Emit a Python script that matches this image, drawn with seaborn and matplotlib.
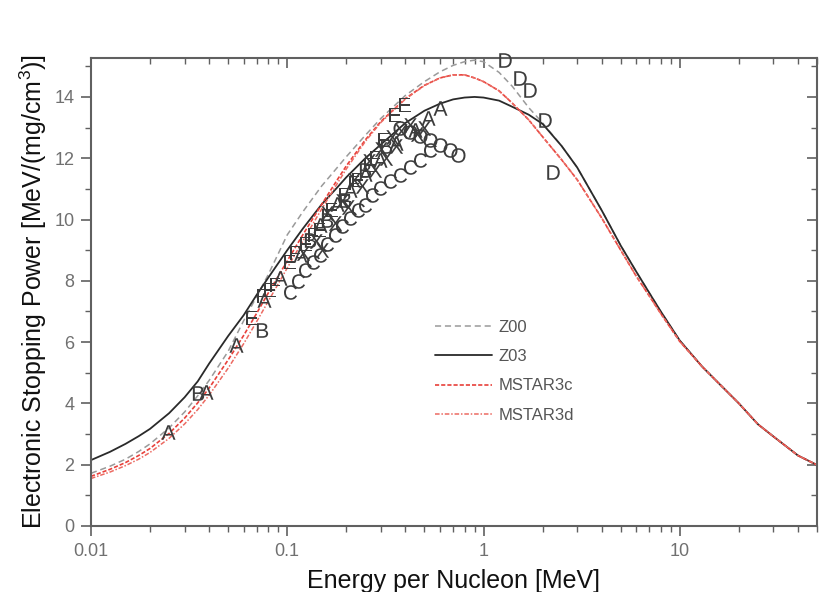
import matplotlib
matplotlib.use("Agg")
import numpy as np
import pandas as pd
import seaborn as sns
from matplotlib import pyplot as plt
from matplotlib.ticker import FixedLocator, MultipleLocator, NullFormatter

# energy grid [MeV/u] shared by the model curves
energy = [0.01, 0.0125, 0.015, 0.0175, 0.02, 0.025, 0.03, 0.035, 0.04, 0.05,
          0.06, 0.07, 0.08, 0.1, 0.12, 0.15, 0.18, 0.2, 0.25, 0.3,
          0.4, 0.5, 0.6, 0.7, 0.8, 0.9, 1.0, 1.2, 1.4, 1.7,
          2.0, 2.5, 3.0, 4.0, 5.0, 6.0, 7.0, 8.0, 10, 13,
          16, 20, 25, 30, 40, 50]

z00 = [1.72, 1.95, 2.18, 2.43, 2.68, 3.2, 3.72, 4.25, 4.75, 5.7,
       6.7, 7.5, 8.2, 9.5, 10.25, 11.1, 11.7, 12.05, 12.75, 13.3,
       14.05, 14.5, 14.82, 15.03, 15.15, 15.2, 15.15, 14.8, 14.35, 13.65,
       13.15, 12.4, 11.7, 10.3, 9.15, 8.3, 7.6, 7.0, 6.05, 5.2,
       4.62, 4.0, 3.32, 2.92, 2.3, 1.99]

z03 = [2.15, 2.42, 2.68, 2.93, 3.17, 3.68, 4.2, 4.72, 5.3, 6.2,
       6.88, 7.55, 8.1, 9.0, 9.7, 10.5, 11.05, 11.38, 12.0, 12.45,
       13.15, 13.55, 13.78, 13.92, 13.98, 14.0, 13.98, 13.88, 13.68, 13.42,
       13.12, 12.4, 11.7, 10.3, 9.15, 8.3, 7.6, 7.0, 6.05, 5.2,
       4.62, 4.0, 3.32, 2.92, 2.3, 1.99]

mstar3c = [1.62, 1.85, 2.07, 2.3, 2.53, 3.02, 3.52, 4.02, 4.5, 5.42,
           6.22, 6.95, 7.6, 8.65, 9.5, 10.5, 11.3, 11.75, 12.6, 13.2,
           13.95, 14.38, 14.62, 14.72, 14.72, 14.62, 14.5, 14.2, 13.8, 13.25,
           12.7, 11.95, 11.3, 10.05, 9.0, 8.15, 7.5, 6.93, 6.02, 5.2,
           4.62, 4.0, 3.32, 2.92, 2.3, 1.99]

mstar3d = [1.55, 1.76, 1.97, 2.18, 2.4, 2.86, 3.33, 3.8, 4.27, 5.15,
           5.95, 6.68, 7.33, 8.42, 9.3, 10.35, 11.18, 11.65, 12.55, 13.17,
           13.93, 14.37, 14.62, 14.72, 14.72, 14.62, 14.5, 14.2, 13.8, 13.25,
           12.7, 11.95, 11.3, 10.05, 9.0, 8.15, 7.5, 6.93, 6.02, 5.2,
           4.62, 4.0, 3.32, 2.92, 2.3, 1.99]

# experimental points, one letter per data set
exp_a_e = [0.0247, 0.0385, 0.0548, 0.076, 0.0917, 0.116, 0.1465, 0.18, 0.208,
           0.25, 0.296, 0.36, 0.446, 0.52, 0.598]
exp_a_s = [3.07, 4.37, 5.91, 7.38, 8.09, 8.84, 9.82, 10.5, 10.97,
           11.5, 11.95, 12.5, 12.92, 13.3, 13.64]
exp_b_e = [0.0351, 0.0743, 0.13, 0.16, 0.196, 0.25, 0.32]
exp_b_s = [4.34, 6.40, 9.33, 10.0, 10.64, 11.6, 12.4]
exp_e_e = [0.066, 0.0815, 0.103, 0.125, 0.1465, 0.17, 0.196, 0.23, 0.263, 0.31,
           0.353, 0.397]
exp_e_s = [6.79, 7.70, 8.62, 9.2, 9.66, 10.3, 10.8, 11.3, 11.78, 12.6,
           13.41, 13.74]
exp_f_e = [0.0743, 0.0863, 0.11, 0.135, 0.16, 0.22, 0.28]
exp_f_s = [7.5, 7.87, 8.9, 9.5, 10.1, 11.2, 12.0]
exp_c_e = [0.103, 0.113, 0.123, 0.135, 0.1465, 0.16, 0.175, 0.19, 0.208, 0.228,
           0.248, 0.27, 0.296, 0.335, 0.374, 0.42, 0.473, 0.532]
exp_c_s = [7.64, 8.0, 8.36, 8.6, 8.84, 9.2, 9.50, 9.8, 10.05, 10.3,
           10.48, 10.8, 11.03, 11.25, 11.46, 11.7, 11.95, 12.27]
exp_o_e = [0.374, 0.421, 0.473, 0.532, 0.598, 0.673, 0.74]
exp_o_s = [12.99, 12.86, 12.73, 12.6, 12.43, 12.27, 12.11]
exp_x_e = [0.12, 0.14, 0.15, 0.16, 0.175, 0.19, 0.205, 0.22, 0.24, 0.26, 0.28,
           0.3, 0.32, 0.34, 0.36, 0.38, 0.42, 0.46, 0.5]
exp_x_s = [8.9, 9.3, 9.0, 10.2, 9.9, 10.6, 10.4, 11.3, 11.1, 11.9, 11.6,
           12.3, 12.0, 12.7, 12.4, 12.9, 13.1, 12.8, 13.0]
exp_d_e = [1.28, 1.53, 1.72, 2.05, 2.25]
exp_d_s = [15.21, 14.62, 14.23, 13.25, 11.55]

sns.set_theme(style="ticks")
plt.rcParams["font.family"] = ["Liberation Sans", "DejaVu Sans"]
plt.rcParams["mathtext.fontset"] = "custom"
plt.rcParams["mathtext.rm"] = "Liberation Sans"

fig = plt.figure(figsize=(8.24, 5.92), dpi=100)
ax = fig.add_axes([0.1104, 0.1115, 0.8811, 0.7905])

curves = pd.DataFrame({"E": energy, "Z00": z00, "Z03": z03,
                       "MSTAR3c": mstar3c, "MSTAR3d": mstar3d})

sns.lineplot(data=curves, x="E", y="Z00", ax=ax, color="#9a9a9a", lw=1.1,
             linestyle=(0, (4, 2.5)), label="Z00")
sns.lineplot(data=curves, x="E", y="Z03", ax=ax, color="#2a2a2a", lw=1.3,
             label="Z03")
sns.lineplot(data=curves, x="E", y="MSTAR3c", ax=ax, color="#e8403a", lw=1.2,
             linestyle=(0, (2.5, 1.2)), label="MSTAR3c")
sns.lineplot(data=curves, x="E", y="MSTAR3d", ax=ax, color="#ec6a62", lw=1.1,
             linestyle=(0, (3, 1.2, 1, 1.2)), label="MSTAR3d")

sets = [("A", exp_a_e, exp_a_s), ("B", exp_b_e, exp_b_s), ("E", exp_e_e, exp_e_s),
        ("F", exp_f_e, exp_f_s), ("C", exp_c_e, exp_c_s), ("O", exp_o_e, exp_o_s),
        ("X", exp_x_e, exp_x_s), ("D", exp_d_e, exp_d_s)]
for letter, xs, ys in sets:
    sns.scatterplot(x=xs, y=ys, ax=ax, marker=f"$\\mathrm{{{letter}}}$", s=110,
                    color="#3c3c3c", linewidth=0, clip_on=False, zorder=5,
                    legend=False)

ax.set_xscale("log")
ax.set_xlim(0.01, 50)
ax.set_ylim(0, 15.27)
ax.xaxis.set_major_locator(FixedLocator([0.01, 0.1, 1, 10]))
ax.set_xticklabels(["0.01", "0.1", "1", "10"])
ax.xaxis.set_minor_locator(FixedLocator(
    [m * d for d in (0.01, 0.1, 1, 10) for m in range(2, 10) if m * d <= 50]))
ax.xaxis.set_minor_formatter(NullFormatter())
ax.yaxis.set_major_locator(MultipleLocator(2))
ax.yaxis.set_minor_locator(MultipleLocator(1))

for side in ["left", "right", "top", "bottom"]:
    ax.spines[side].set_visible(True)
    ax.spines[side].set_color("#606060")
    ax.spines[side].set_linewidth(1.5)

ax.tick_params(axis="both", which="major", direction="out", length=7, width=1.2,
               color="#606060", labelsize=13, labelcolor="#707070", pad=5)
ax.tick_params(axis="both", which="minor", direction="out", length=4, width=1.0,
               color="#606060")
ax.tick_params(top=True, right=True, which="both")
# ticks on the opposite axes point inward
for t in ax.xaxis.get_major_ticks() + ax.xaxis.get_minor_ticks():
    t.tick2line.set_marker(3)
for t in ax.yaxis.get_major_ticks() + ax.yaxis.get_minor_ticks():
    t.tick2line.set_marker(0)

ax.set_xlabel("Energy per Nucleon [MeV]", fontsize=18, color="#111111", labelpad=7)
ax.set_ylabel("Electronic Stopping Power [MeV/(mg/cm$^3$)]", fontsize=18,
              color="#111111", labelpad=4)

leg = ax.legend(loc="upper left", bbox_to_anchor=(0.474, 0.44), frameon=False,
                fontsize=12, handlelength=3.4, handletextpad=0.4,
                labelspacing=0.85, borderpad=0, borderaxespad=0)
for txt in leg.get_texts():
    txt.set_color("#555555")

fig.savefig("out.png", dpi=100)
